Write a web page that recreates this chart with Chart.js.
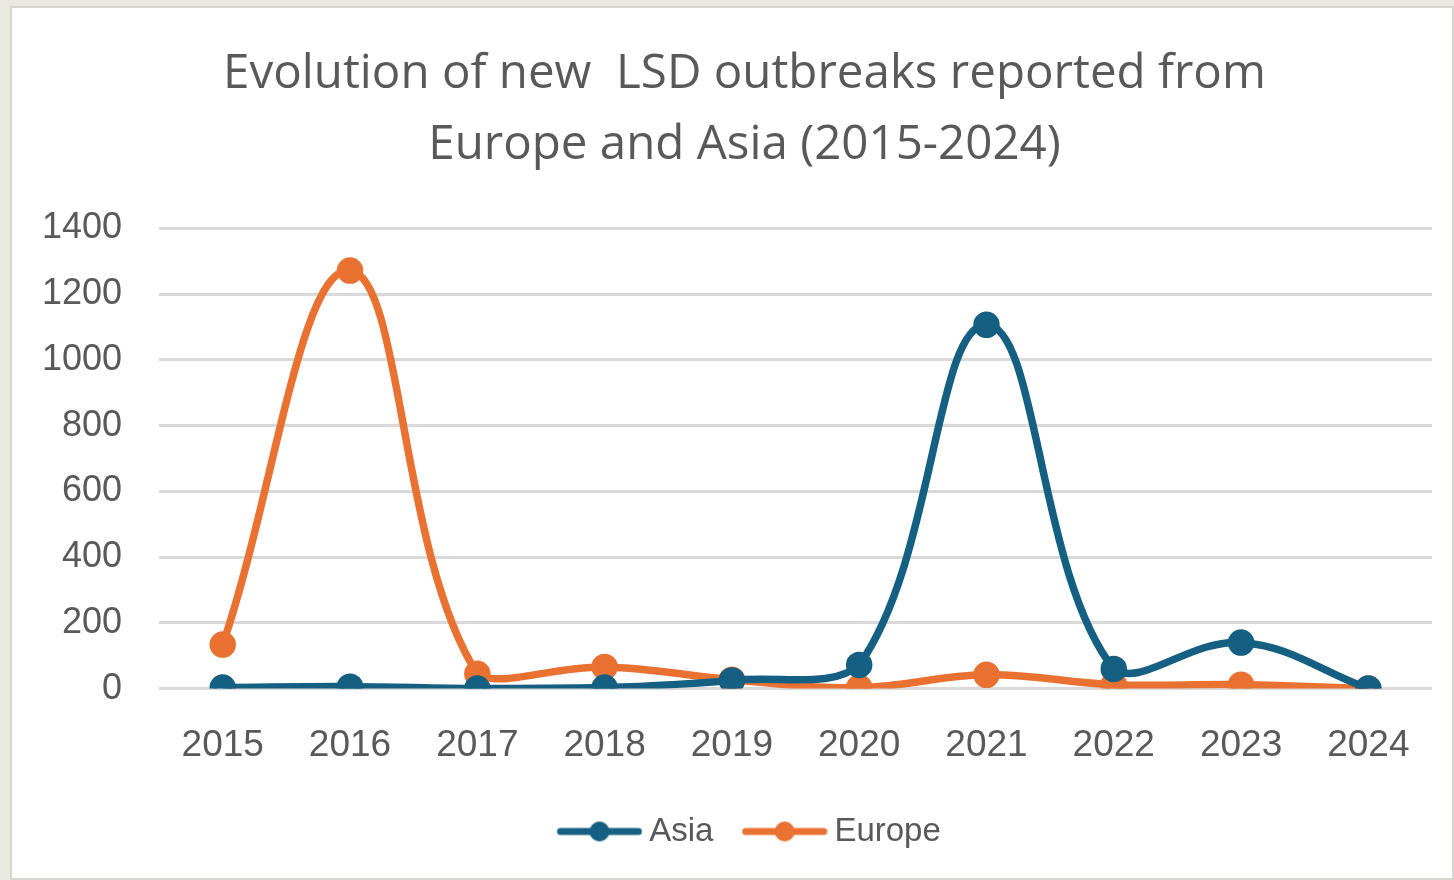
<!DOCTYPE html>
<html>
<head>
<meta charset="utf-8">
<script src="https://cdn.jsdelivr.net/npm/chart.js@4.4.1/dist/chart.umd.min.js"></script>
<style>
  html, body { margin: 0; padding: 0; background: #e9e9e2; }
  #box {
    position: absolute; left: 10px; top: 6px; width: 1444px; height: 874px;
    background: #fff; border: 2px solid #d6d6d0; box-sizing: border-box;
  }
  canvas { display: block; }
</style>
</head>
<body>
<div id="box"><canvas id="chart" width="1440" height="870"></canvas></div>
<script>
const years = ['2015', '2016', '2017', '2018', '2019', '2020', '2021', '2022', '2023', '2024'];
const asia = [3, 6, 0, 3, 25, 72, 1107, 60, 140, 0];
const europe = [134, 1272, 45, 66, 27, 3, 42, 12, 12, 0];
const yTicks = [0, 200, 400, 600, 800, 1000, 1200, 1400];

const asiaColor = '#156082';
const europeColor = '#e97132';
const textColor = '#595959';
const titleFont = '"Open Sans", "Noto Sans", sans-serif';
const tickFont = '"Liberation Sans", Arial, sans-serif';

// line-with-dot marker for the legend, sits in the right part of the image
function legendMarker(color) {
  const c = document.createElement('canvas');
  c.width = 104; c.height = 24;
  const ctx = c.getContext('2d');
  ctx.strokeStyle = color;
  ctx.lineWidth = 7;
  ctx.lineCap = 'round';
  ctx.beginPath();
  ctx.moveTo(22, 12);
  ctx.lineTo(100, 12);
  ctx.stroke();
  ctx.fillStyle = color;
  ctx.beginPath();
  ctx.arc(61, 12, 10, 0, Math.PI * 2);
  ctx.fill();
  return c;
}

const markers = [legendMarker(asiaColor), legendMarker(europeColor)];

// the original chart is wider than the screenshot, so title and legend sit a bit right
const shiftBlocks = {
  id: 'shiftBlocks',
  afterLayout(chart) {
    [chart.titleBlock, chart.legend].forEach(b => {
      if (b) { b.left += 26; b.right += 26; }
    });
  }
};

const ctx = document.getElementById('chart').getContext('2d');
new Chart(ctx, {
  type: 'line',
  data: {
    labels: years,
    datasets: [
      {
        label: 'Asia',
        data: asia,
        borderColor: asiaColor,
        backgroundColor: asiaColor,
        borderWidth: 7.5,
        pointRadius: 9.5,
        pointHoverRadius: 9.5,
        tension: 0.4
      },
      {
        label: 'Europe',
        data: europe,
        borderColor: europeColor,
        backgroundColor: europeColor,
        borderWidth: 7.5,
        pointRadius: 9.5,
        pointHoverRadius: 9.5,
        tension: 0.4
      }
    ]
  },
  plugins: [shiftBlocks],
  options: {
    responsive: false,
    animation: false,
    // y tick padding is counted twice by the layout, so pull the left edge in
    layout: { padding: { left: -7, right: 20, top: 20, bottom: 20 } },
    scales: {
      x: {
        offset: true,
        grid: { display: false },
        border: { display: false },
        ticks: { color: textColor, font: { family: tickFont, size: 37 }, padding: 27 }
      },
      y: {
        min: 0,
        max: 1400,
        afterBuildTicks: (axis) => { axis.ticks = yTicks.map(v => ({ value: v })); },
        grid: { color: '#d9d9d9', lineWidth: 3, drawTicks: false },
        border: { display: false },
        ticks: {
          color: textColor,
          font: { family: tickFont, size: 36 },
          padding: 37,
          callback: (v) => String(v)
        }
      }
    },
    plugins: {
      title: {
        display: true,
        text: ['Evolution of new  LSD outbreaks reported from', 'Europe and Asia (2015-2024)'],
        color: textColor,
        font: { family: titleFont, size: 47.5, weight: 'normal', lineHeight: 1.5 },
        padding: { top: 11, bottom: 47 }
      },
      legend: {
        position: 'bottom',
        labels: {
          color: textColor,
          font: { family: tickFont, size: 33 },
          usePointStyle: true,
          pointStyleWidth: 84.5,
          padding: 20,
          generateLabels: (chart) => chart.data.datasets.map((ds, i) => ({
            text: ds.label,
            fontColor: textColor,
            pointStyle: markers[i],
            datasetIndex: i,
            hidden: false,
            lineWidth: 0
          }))
        }
      },
      tooltip: { enabled: false }
    }
  }
});
</script>
</body>
</html>
